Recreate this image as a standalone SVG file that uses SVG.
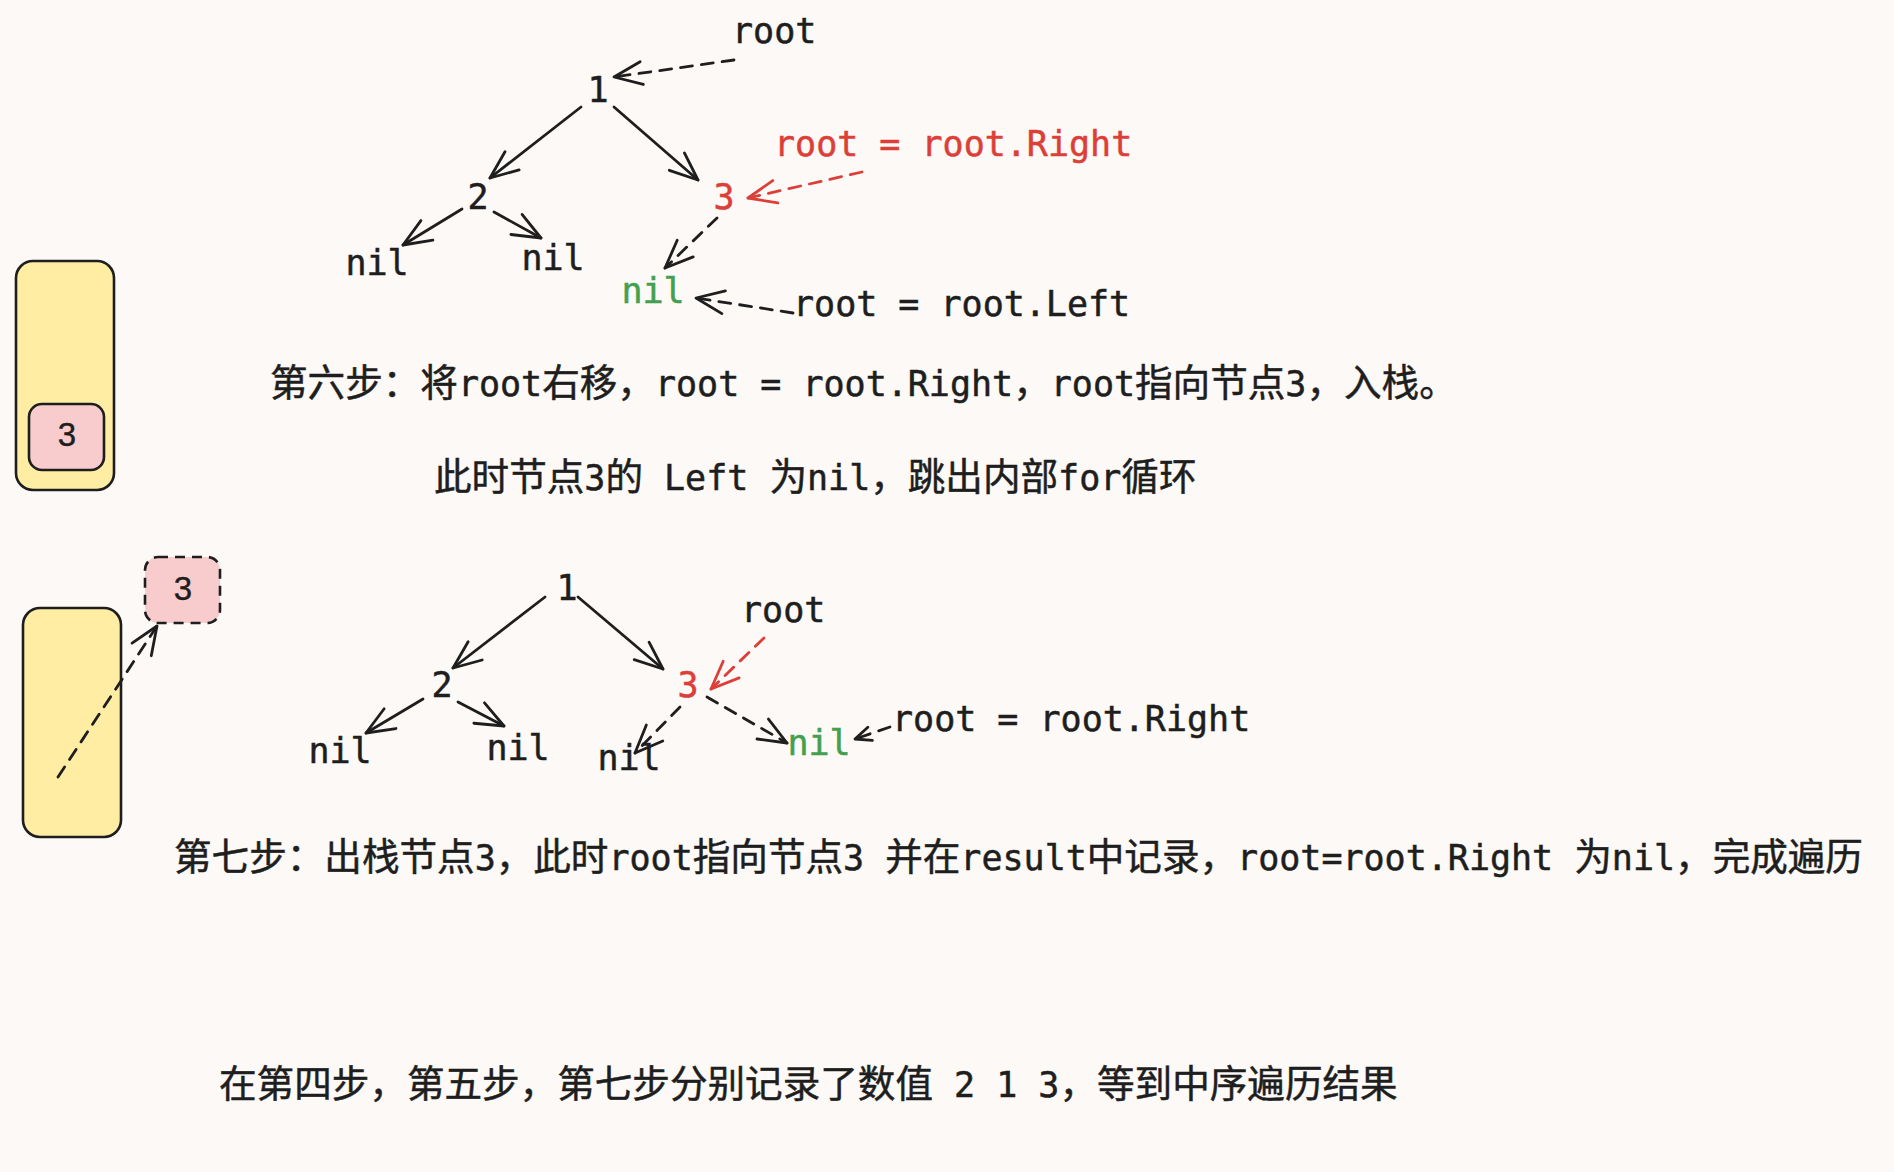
<svg xmlns="http://www.w3.org/2000/svg" width="1894" height="1172" viewBox="0 0 1894 1172">
<style>
.bg{fill:#fcf9f6}
.m{font-family:"DejaVu Sans Mono","Liberation Mono","Noto Sans CJK SC",monospace;font-size:35px;fill:#1e1e1e;stroke:#1e1e1e;stroke-width:0.5}
.c{font-size:37.6px}
.mid{text-anchor:middle}
.red{fill:#dc3e38;stroke:#dc3e38}
.grn{fill:#43a04f;stroke:#43a04f}
.s3{font-family:"Liberation Sans","Noto Sans",sans-serif;font-size:33px;fill:#1e1e1e;stroke:#1e1e1e;stroke-width:0.4;text-anchor:middle}
.e{stroke:#1e1e1e;stroke-width:2.8;fill:none;stroke-linecap:round}
.d{stroke-dasharray:12 9}
.er{stroke:#dc3e38}
.stack{fill:#feeda3;stroke:#1e1e1e;stroke-width:2.6}
.item{fill:#f8cccc;stroke:#1e1e1e;stroke-width:2.6}
</style>
<defs>
<marker id="ah" markerUnits="userSpaceOnUse" markerWidth="40" markerHeight="40" refX="0" refY="0" orient="auto" style="overflow:visible">
<path d="M-28,-11.5 L0,0 L-28,11.5" fill="none" stroke="#1e1e1e" stroke-width="2.8" stroke-linecap="round" stroke-linejoin="round"/>
</marker>
<marker id="ahr" markerUnits="userSpaceOnUse" markerWidth="40" markerHeight="40" refX="0" refY="0" orient="auto" style="overflow:visible">
<path d="M-28,-11.5 L0,0 L-28,11.5" fill="none" stroke="#dc3e38" stroke-width="2.8" stroke-linecap="round" stroke-linejoin="round"/>
</marker>
<marker id="ahs" markerUnits="userSpaceOnUse" markerWidth="30" markerHeight="30" refX="0" refY="0" orient="auto" style="overflow:visible">
<path d="M-16,-7 L0,0 L-16,7" fill="none" stroke="#1e1e1e" stroke-width="2.8" stroke-linecap="round" stroke-linejoin="round"/>
</marker>
</defs>
<rect class="bg" x="0" y="0" width="1894" height="1172"/>

<g id="stack1">
<rect class="stack" x="16" y="261" width="98" height="229" rx="17"/>
<rect class="item" x="29" y="404" width="75" height="66" rx="13"/>
<text class="s3" x="67" y="446">3</text>
</g>

<g id="stack2">
<rect class="stack" x="23" y="608" width="98" height="229" rx="17"/>
</g>
<g id="popped3">
<rect class="item" x="145" y="557" width="75" height="66" rx="13" stroke-dasharray="10 7"/>
<text class="s3" x="183" y="600">3</text>
</g>

<g id="top-tree">
<text id="t-root" class="m" x="732" y="43">root</text>
<text id="t-n1" class="m mid" x="598" y="102">1</text>
<text id="t-n2" class="m mid" x="478" y="209">2</text>
<text id="t-n3" class="m mid red" x="724" y="209">3</text>
<text id="t-nilL" class="m mid" x="377" y="275">nil</text>
<text id="t-nilR" class="m mid" x="553" y="270">nil</text>
<text id="t-nilG" class="m mid grn" x="653" y="303">nil</text>
<text id="t-right" class="m red" x="774" y="156">root = root.Right</text>
<text id="t-left" class="m" x="793" y="316">root = root.Left</text>
</g>

<g id="step6">
<text class="m" x="270" y="396"><tspan class="c">第六步：将</tspan>root<tspan class="c">右移，</tspan>root = root.Right<tspan class="c">，</tspan>root<tspan class="c">指向节点</tspan>3<tspan class="c">，入栈。</tspan></text>
<text class="m" x="434" y="490"><tspan class="c">此时节点</tspan>3<tspan class="c">的</tspan> Left <tspan class="c">为</tspan>nil<tspan class="c">，跳出内部</tspan>for<tspan class="c">循环</tspan></text>
</g>

<g id="bottom-tree">
<text id="b-root" class="m" x="741" y="622">root</text>
<text id="b-n1" class="m mid" x="567" y="600">1</text>
<text id="b-n2" class="m mid" x="442" y="697">2</text>
<text id="b-n3" class="m mid red" x="688" y="697">3</text>
<text id="b-nilL" class="m mid" x="340" y="763">nil</text>
<text id="b-nilR" class="m mid" x="518" y="760">nil</text>
<text id="b-nil3" class="m mid" x="629" y="770">nil</text>
<text id="b-nilG" class="m mid grn" x="819" y="755">nil</text>
<text id="b-right" class="m" x="892" y="731">root = root.Right</text>
</g>

<g id="step7">
<text class="m" x="174" y="870"><tspan class="c">第七步：出栈节点</tspan>3<tspan class="c">，此时</tspan>root<tspan class="c">指向节点</tspan>3 <tspan class="c">并在</tspan>result<tspan class="c">中记录，</tspan>root=root.Right <tspan class="c">为</tspan>nil<tspan class="c">，完成遍历</tspan></text>
</g>

<g id="summary">
<text class="m" x="219" y="1097"><tspan class="c">在第四步，第五步，第七步分别记录了数值</tspan> 2 1 3<tspan class="c">，等到中序遍历结果</tspan></text>
</g>

<g id="connectors">
<line class="e d" x1="734" y1="60" x2="614" y2="77" marker-end="url(#ah)"/>
<line class="e" x1="581" y1="107" x2="490" y2="178" marker-end="url(#ah)"/>
<line class="e" x1="614" y1="107" x2="698" y2="180" marker-end="url(#ah)"/>
<line class="e" x1="462" y1="209" x2="403" y2="245" marker-end="url(#ah)"/>
<line class="e" x1="494" y1="212" x2="541" y2="238" marker-end="url(#ah)"/>
<line class="e d" x1="717" y1="218" x2="665" y2="268" marker-end="url(#ah)"/>
<line class="e d er" x1="862" y1="172" x2="748" y2="198" marker-end="url(#ahr)"/>
<line class="e d" x1="793" y1="313" x2="696" y2="298" marker-end="url(#ah)"/>

<line class="e d" x1="58" y1="777" x2="157" y2="626" marker-end="url(#ah)"/>
<line class="e" x1="545" y1="597" x2="453" y2="668" marker-end="url(#ah)"/>
<line class="e" x1="578" y1="597" x2="663" y2="669" marker-end="url(#ah)"/>
<line class="e" x1="423" y1="699" x2="366" y2="733" marker-end="url(#ah)"/>
<line class="e" x1="458" y1="702" x2="504" y2="726" marker-end="url(#ah)"/>
<line class="e d" x1="680" y1="707" x2="635" y2="753" marker-end="url(#ah)"/>
<line class="e d" x1="707" y1="697" x2="787" y2="743" marker-end="url(#ah)"/>
<line class="e d er" x1="764" y1="638" x2="711" y2="689" marker-end="url(#ahr)"/>
<line class="e d" x1="890" y1="727" x2="855" y2="739" marker-end="url(#ahs)"/>
</g>
</svg>
